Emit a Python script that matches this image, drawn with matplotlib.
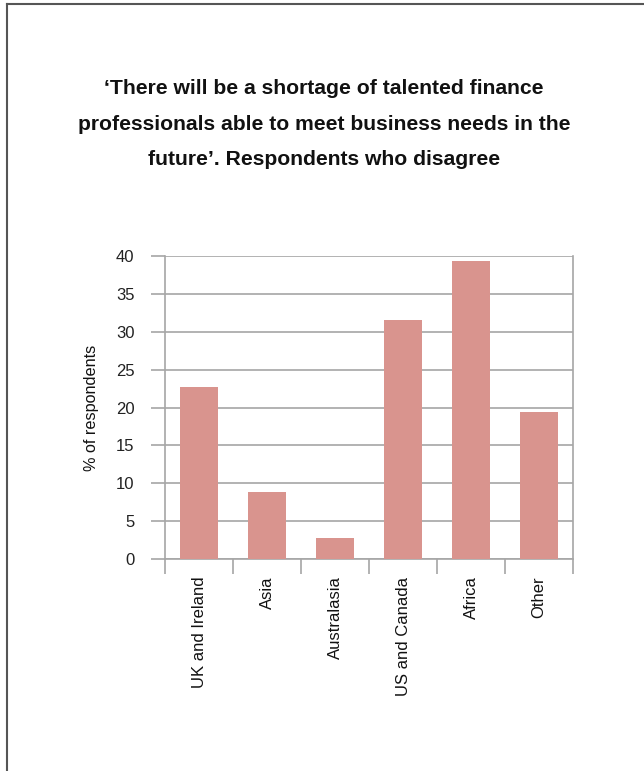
import matplotlib
matplotlib.use("Agg")
import matplotlib.pyplot as plt
from matplotlib.lines import Line2D

categories = ["UK and Ireland", "Asia", "Australasia", "US and Canada", "Africa", "Other"]
values = [22.7, 8.85, 2.8, 31.6, 39.3, 19.4]
yticks = [0, 5, 10, 15, 20, 25, 30, 35, 40]
title = ("\u2018There will be a shortage of talented finance\n"
         "professionals able to meet business needs in the\n"
         "future\u2019. Respondents who disagree")

plt.rcParams['font.family'] = ['Liberation Sans', 'DejaVu Sans']

fig = plt.figure(figsize=(6.44, 7.71), dpi=100)
ax = fig.add_axes([165/644, 1-559/771, (573-165)/644, (559-256)/771])

grid_c = '#a6a6a6'
ax.bar(range(len(categories)), values, width=0.55, color='#d9948e', zorder=3)
ax.set_xlim(-0.5, len(categories) - 0.5)
ax.set_ylim(0, 40)
ax.set_yticks(yticks)
ax.set_yticklabels([str(v) for v in yticks], fontsize=12, color='#222222')
ax.yaxis.grid(True, color=grid_c, linewidth=1.2, zorder=1)
ax.tick_params(axis='y', length=10, width=1.2, color=grid_c, pad=12)

ax.set_xticks([i - 0.5 for i in range(len(categories) + 1)])
ax.set_xticklabels([])
ax.tick_params(axis='x', length=10.5, width=1.2, color=grid_c)
for i, c in enumerate(categories):
    ax.text(i, -0.058, c, rotation=90, ha='center', va='top', fontsize=12,
            color='#111111', transform=ax.get_xaxis_transform())

for s in ['left', 'right', 'bottom']:
    ax.spines[s].set_color(grid_c)
    ax.spines[s].set_linewidth(1.2)
ax.spines['top'].set_visible(False)

ax.set_ylabel('% of respondents', fontsize=11.7, color='#111111', labelpad=12)

fig.text(0.503, 1-124/771, title, ha='center', va='center', fontsize=15.2,
         fontweight='bold', linespacing=2.08, color='#111111')

fig.add_artist(Line2D([7/644, 1], [1-3.5/771, 1-3.5/771], transform=fig.transFigure,
                      color='#555555', linewidth=1.5))
fig.add_artist(Line2D([7/644, 7/644], [0, 1-3.5/771], transform=fig.transFigure,
                      color='#555555', linewidth=1.5))

fig.savefig('out.png', dpi=100)
